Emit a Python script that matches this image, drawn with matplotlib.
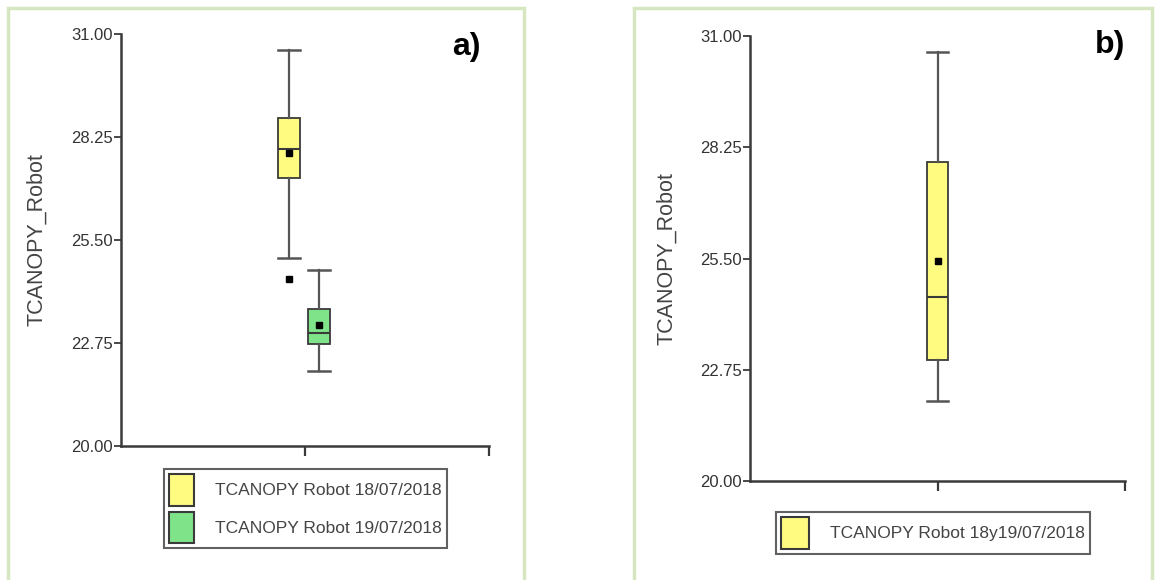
import matplotlib
matplotlib.use("Agg")
import matplotlib.pyplot as plt
from matplotlib.patches import Patch, Rectangle

plt.rcParams['font.family'] = ['Liberation Sans', 'DejaVu Sans']

# panel a) two days
labels_a = ["TCANOPY Robot 18/07/2018", "TCANOPY Robot 19/07/2018"]
whislo_a = [25.03, 22.00]
q1_a = [27.15, 22.71]
med_a = [27.92, 23.03]
q3_a = [28.77, 23.67]
whishi_a = [30.58, 24.71]
mean_a = [27.82, 23.22]
fliers_a = [[24.47], []]

# panel b) both days together
labels_b = ["TCANOPY Robot 18y19/07/2018"]
whislo_b = [21.97]
q1_b = [23.00]
med_b = [24.55]
q3_b = [27.89]
whishi_b = [30.61]
mean_b = [25.45]
fliers_b = [[]]

yticks = [20.00, 22.75, 25.50, 28.25, 31.00]
ylab = "TCANOPY_Robot"

yellow = '#fffa80'
green = '#7fe38a'
dark = '#3a3a3a'
txt = '#444444'
frame_col = '#d5e6c0'

W, H = 1155, 580
fig = plt.figure(figsize=(W / 100, H / 100), dpi=100)


def px_axes(left, right, top, bottom):
    return fig.add_axes([left / W, 1 - bottom / H, (right - left) / W, (bottom - top) / H])


def make_stats(labels, lo, q1, med, q3, hi, mean, fl):
    out = []
    for i in range(len(labels)):
        out.append(dict(label=labels[i], whislo=lo[i], q1=q1[i], med=med[i],
                        q3=q3[i], whishi=hi[i], mean=mean[i], fliers=fl[i]))
    return out


def draw_panel(ax, stats, positions, width, colors, ylabel_x):
    parts = ax.bxp(stats, positions=positions, widths=width, capwidths=width,
                   patch_artist=True, showmeans=True, manage_ticks=False,
                   boxprops=dict(edgecolor=dark, linewidth=1.3),
                   medianprops=dict(color=dark, linewidth=1.5),
                   whiskerprops=dict(color='#555555', linewidth=1.6),
                   capprops=dict(color='#555555', linewidth=1.8),
                   meanprops=dict(marker='s', markerfacecolor='black',
                                  markeredgecolor='black', markersize=4.5),
                   flierprops=dict(marker='s', markerfacecolor='black',
                                   markeredgecolor='black', markersize=4.5))
    for b, c in zip(parts['boxes'], colors):
        b.set_facecolor(c)
    ax.set_xlim(0, 2)
    ax.set_ylim(20, 31)
    ax.set_yticks(yticks)
    ax.set_yticklabels(["%.2f" % t for t in yticks], fontsize=12, color='#333333')
    ax.set_xticks([1, 2])
    ax.set_xticklabels([])
    ax.tick_params(axis='y', direction='out', length=5, width=1.3, color=dark, pad=1)
    ax.tick_params(axis='x', direction='out', length=7, width=1.6, color=dark)
    for s in ['top', 'right']:
        ax.spines[s].set_visible(False)
    for s in ['left', 'bottom']:
        ax.spines[s].set_color(dark)
        ax.spines[s].set_linewidth(1.8)
    ax.set_ylabel(ylab, fontsize=15.5, color=txt)
    ax.yaxis.set_label_coords(ylabel_x, 0.5)
    ax.patch.set_alpha(0)


# frames round the panels
fig.add_artist(Rectangle((8 / W, -0.05), (524 - 8) / W, 1.05 - 8 / H, transform=fig.transFigure,
                         fill=False, edgecolor=frame_col, linewidth=2.5))
fig.add_artist(Rectangle((634 / W, -0.05), (1152 - 634) / W, 1.05 - 8 / H, transform=fig.transFigure,
                         fill=False, edgecolor=frame_col, linewidth=2.5))

ax1 = px_axes(121, 489, 34, 446)
draw_panel(ax1, make_stats(labels_a, whislo_a, q1_a, med_a, q3_a, whishi_a, mean_a, fliers_a),
           [0.915, 1.075], 0.12, [yellow, green], -0.200)

ax2 = px_axes(750, 1125, 36, 481)
draw_panel(ax2, make_stats(labels_b, whislo_b, q1_b, med_b, q3_b, whishi_b, mean_b, fliers_b),
           [1.0], 0.113, [yellow], -0.193)

fig.text(466 / W, 1 - 47 / H, "a)", fontsize=23, fontweight='bold', ha='center', va='center')
fig.text(1110 / W, 1 - 45 / H, "b)", fontsize=23, fontweight='bold', ha='center', va='center')

handles_a = [Patch(facecolor=c, edgecolor=dark, linewidth=1.5) for c in [yellow, green]]
leg1 = fig.legend(handles_a, labels_a, loc='upper left', bbox_to_anchor=(164 / W, 1 - 469 / H),
                  fontsize=12.5, frameon=True, fancybox=False, borderaxespad=0,
                  handlelength=1.45, handleheight=2.4, handletextpad=1.2,
                  labelspacing=0.35, borderpad=0.3, labelcolor=txt)
leg1.get_frame().set_edgecolor(dark)
leg1.get_frame().set_linewidth(1.5)

handles_b = [Patch(facecolor=yellow, edgecolor=dark, linewidth=1.5)]
leg2 = fig.legend(handles_b, labels_b, loc='upper left', bbox_to_anchor=(776 / W, 1 - 512 / H),
                  fontsize=12.5, frameon=True, fancybox=False, borderaxespad=0,
                  handlelength=1.6, handleheight=2.4, handletextpad=1.2,
                  borderpad=0.3, labelcolor=txt)
leg2.get_frame().set_edgecolor(dark)
leg2.get_frame().set_linewidth(1.5)

plt.savefig('out.png', dpi=100)
